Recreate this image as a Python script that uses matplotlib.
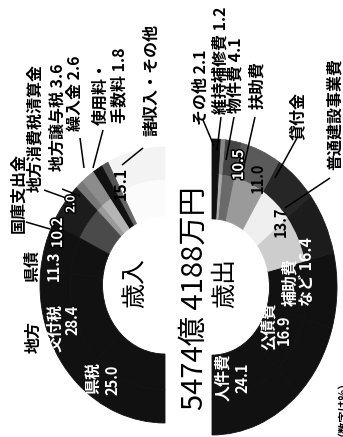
import matplotlib
matplotlib.use("Agg")
import matplotlib.pyplot as plt
import matplotlib.patheffects as pe

plt.rcParams['font.family'] = ['Noto Sans CJK JP', 'DejaVu Sans']

# ---------------- data ----------------
total_label = "5474億 4188万円"
revenue_title = "歳入"
expense_title = "歳出"
unit_note = "（数字は%）"

revenue_labels = ["諸収入・その他", "使用料・手数料", "繰入金", "地方譲与税",
                  "地方消費税清算金", "国庫支出金", "県債", "地方交付税", "県税"]
revenue_values = [15.1, 1.8, 2.6, 3.6, 2.0, 10.2, 11.3, 28.4, 25.0]

expense_labels = ["人件費", "公債費", "補助費など", "普通建設事業費", "貸付金",
                  "扶助費", "物件費", "維持補修費", "その他"]
expense_values = [24.1, 16.9, 16.4, 13.7, 11.0, 10.5, 4.1, 1.2, 2.1]

rv = dict(zip(revenue_labels, revenue_values))
ev = dict(zip(expense_labels, expense_values))

# ---------------- figure ----------------
W, H = 343, 437
fig = plt.figure(figsize=(W / 100, H / 100), dpi=100)
fig.patch.set_facecolor("white")


def ring(cx, cy, a, b, box, values, start, outer_cols, inner_cols, inner_frac):
    x0, x1, y0, y1 = box
    ax = fig.add_axes([x0 / W, (H - y1) / H, (x1 - x0) / W, (y1 - y0) / H])
    fr = [v / 200.0 for v in values]
    w1, _ = ax.pie(fr, radius=1.0, startangle=start, counterclock=True,
                   normalize=False, colors=outer_cols,
                   wedgeprops=dict(width=0.24, linewidth=0))
    w2, _ = ax.pie(fr, radius=0.76, startangle=start, counterclock=True,
                   normalize=False, colors=inner_cols,
                   wedgeprops=dict(width=0.76 - inner_frac, linewidth=0))
    for w in list(w1) + list(w2):
        w.set_edgecolor(w.get_facecolor())
        w.set_linewidth(0.6)
    ax.set_xlim((x0 - cx) / a, (x1 - cx) / a)
    ax.set_ylim((cy - y1) / b, (cy - y0) / b)
    ax.set_aspect("auto")
    ax.axis("off")
    return ax


# revenue ring (left), from top going counter-clockwise to bottom
rev_outer = ["#f3f3f3", "#555555", "#111111", "#8c8c8c", "#777777",
             "#1c1c1c", "#111111", "#111111", "#111111"]
rev_inner = ["#fbfbfb", "#666666", "#111111", "#b5b5b5", "#9a9a9a",
             "#4a4a4a", "#111111", "#111111", "#111111"]
ring(165, 285, 125, 138, (40, 290, 147, 423), revenue_values, 90,
     rev_outer, rev_inner, 0.5)

# expense ring (right), from bottom going counter-clockwise to top
exp_outer = ["#111111", "#111111", "#111111", "#1c1c1c", "#262626",
             "#5a5a5a", "#444444", "#888888", "#111111"]
exp_inner = ["#111111", "#111111", "#111111", "#cdcdcd", "#efefef",
             "#9a9a9a", "#6a6a6a", "#aaaaaa", "#111111"]
ring(212, 287, 125, 148, (87, 337, 139, 420), expense_values, -90,
     exp_outer, exp_inner, 0.46)

# ---------------- overlay (pixel coordinates) ----------------
ov = fig.add_axes([0, 0, 1, 1])
ov.set_xlim(0, W)
ov.set_ylim(H, 0)
ov.axis("off")


def t(x, y, s, size=11.5, color="black", outline=False, weight="bold", **kw):
    eff = None
    if outline:
        eff = [pe.withStroke(linewidth=2.2, foreground="black")]
    ov.text(x, y, s, rotation=90, ha=kw.pop("ha", "center"),
            va=kw.pop("va", "center"), fontsize=size, color=color,
            fontweight=weight, path_effects=eff, **kw)


def line(p, q):
    ov.plot([p[0], q[0]], [p[1], q[1]], color="black", lw=1.1,
            solid_capstyle="butt")


f1 = lambda v: f"{v:.1f}"
NUM = 10.5

# centre titles
t(195, 298, total_label, size=21, weight="normal")
t(135, 283, revenue_title, size=18, weight="normal")
t(225, 283, expense_title, size=18, weight="normal")
t(337, 370, unit_note, size=8, va="top")

# revenue labels
t(18, 193, "国庫支出金")
line((26, 222), (50, 229))
t(35, 128, "地方消費税清算金")
line((44, 190), (66, 198))
t(58, 117, f"地方譲与税 {f1(rv['地方譲与税'])}")
line((62, 189), (80, 196))
t(75, 93, f"繰入金 {f1(rv['繰入金'])}")
line((80, 138), (84, 168))
t(101, 93, "使用料・")
t(119, 85, f"手数料 {f1(rv['使用料・手数料'])}")
line((103, 130), (93, 168))
t(151, 80, "諸収入・その他")
line((143, 148), (122, 165))
t(121, 183, f1(rv["諸収入・その他"]))
t(32, 266, "県債")
t(54, 266, f1(rv["県債"]), size=NUM, color="white")
t(34, 337, "地方")
t(55, 328, "交付税", color="white")
t(72, 320, f1(rv["地方交付税"]), size=NUM, color="white")
t(93, 378, "県税", color="white")
t(112, 380, f1(rv["県税"]), size=NUM, color="white")
t(57, 233, f1(rv["国庫支出金"]), size=NUM, color="white", outline=True)
t(71, 204, f1(rv["地方消費税清算金"]), size=8.5, color="white", outline=True)

# expense labels
t(201, 87, f"その他 {f1(ev['その他'])}")
line((203, 120), (214, 146))
t(221, 60, f"維持補修費 {f1(ev['維持補修費'])}")
line((221, 117), (217, 150))
t(236, 75, f"物件費 {f1(ev['物件費'])}")
line((234, 117), (226, 160))
t(257, 85, "扶助費")
line((255, 117), (243, 170))
t(298, 116, "貸付金")
line((297, 138), (275, 178))
t(335, 114, "普通建設事業費")
line((330, 178), (285, 208))
t(281, 222, f1(ev["普通建設事業費"]), size=NUM)
t(258, 178, f1(ev["貸付金"]), size=NUM)
t(238, 165, f1(ev["扶助費"]), size=NUM, color="white", outline=True)
t(223, 377, "人件費", color="white")
t(242, 378, f1(ev["人件費"]), size=NUM, color="white")
t(268, 326, "公債費", color="white")
t(284, 330, f1(ev["公債費"]), size=NUM, color="white")
t(290, 282, "補助費", color="white")
t(307, 272, f"など {f1(ev['補助費など'])}", color="white")

fig.savefig("out.png", dpi=100, facecolor="white")
